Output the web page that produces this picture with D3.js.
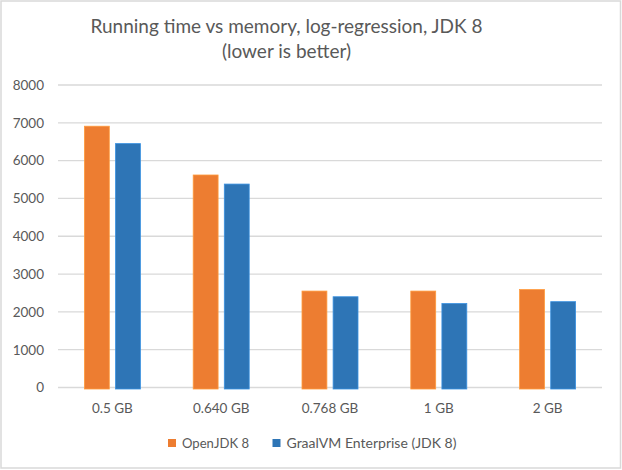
<!DOCTYPE html>
<html><head><meta charset="utf-8">
<script src="https://cdn.jsdelivr.net/npm/d3@7/dist/d3.min.js"></script>
<style>html,body{margin:0;padding:0;background:#fff;} svg{display:block;}</style>
</head><body>
<script>
const categories = ["0.5 GB", "0.640 GB", "0.768 GB", "1 GB", "2 GB"];
const seriesNames = ["OpenJDK 8", "GraalVM Enterprise (JDK 8)"];
const openJdk = [6910, 5620, 2550, 2550, 2590];
const graalVm = [6450, 5380, 2400, 2220, 2270];
const yTicks = [0, 1000, 2000, 3000, 4000, 5000, 6000, 7000, 8000];
const colors = ["#ED7D31", "#2E75B6"];
const titleLines = ["Running time vs memory, log-regression, JDK 8", "(lower is better)"];

const W = 622, H = 470;
const font = "Lato, 'Open Sans', sans-serif";
const svg = d3.select("body").append("svg").attr("width", W).attr("height", H);
svg.append("rect").attr("x", 1).attr("y", 1).attr("width", W - 2.5).attr("height", H - 3)
  .attr("fill", "#fff").attr("stroke", "#d9d9d9").attr("stroke-width", 1.5);

const x = d3.scaleBand().domain(categories).range([58, 602]).padding(0);
const y = d3.scaleLinear().domain([0, 8000]).range([387.5, 85]);
const groupW = 56;
const xi = d3.scaleBand().domain([0, 1]).range([0, groupW]).paddingInner(0.2);

// gridlines
svg.append("g").selectAll("line").data(yTicks).join("line")
  .attr("x1", 58).attr("x2", 602)
  .attr("y1", d => y(d)).attr("y2", d => y(d))
  .attr("stroke", "#d9d9d9").attr("stroke-width", 1.3);

// y axis labels
const yAxis = d3.axisLeft(y).tickValues(yTicks).tickSize(0).tickPadding(0).tickFormat(d3.format("d"));
const ya = svg.append("g").attr("transform", "translate(44,0)").call(yAxis);
ya.select(".domain").remove();
ya.selectAll("text").attr("fill", "#595959").attr("font-size", 13.5).attr("font-family", font);

// bars
const series = [openJdk, graalVm];
series.forEach((vals, si) => {
  svg.append("g").selectAll("rect").data(vals).join("rect")
    .attr("x", (d, i) => x(categories[i]) + (x.bandwidth() - groupW) / 2 + xi(si))
    .attr("width", xi.bandwidth())
    .attr("y", d => y(d))
    .attr("height", d => y(0) - y(d) + 1.5)
    .attr("fill", colors[si])
    .attr("stroke", d3.color(colors[si]).brighter(0.6))
    .attr("stroke-width", 0.8);
});

// x axis labels
const xAxis = d3.axisBottom(x).tickSize(0).tickPadding(0);
const xa = svg.append("g").attr("transform", "translate(0,403)").call(xAxis);
xa.select(".domain").remove();
xa.selectAll("text").attr("fill", "#595959").attr("font-size", 13.5).attr("font-family", font).attr("dy", "0.71em");

// title
svg.append("g").selectAll("text").data(titleLines).join("text")
  .attr("x", 286.5).attr("y", (d, i) => 33 + i * 25)
  .attr("text-anchor", "middle").attr("fill", "#595959")
  .attr("font-size", 19).attr("font-family", font)
  .text(d => d);

// legend
const legendX = [168, 272.5];
const legendLen = [67, 170];
const lg = svg.append("g").selectAll("g").data(seriesNames).join("g")
  .attr("transform", (d, i) => `translate(${legendX[i]},439)`);
lg.append("rect").attr("width", 8).attr("height", 8).attr("fill", (d, i) => colors[i]);
lg.append("text").attr("x", 14).attr("y", 4).attr("dy", "0.35em")
  .attr("textLength", (d, i) => legendLen[i]).attr("lengthAdjust", "spacingAndGlyphs")
  .attr("fill", "#595959").attr("font-size", 13.5).attr("font-family", font).text(d => d);
</script>
</body></html>
